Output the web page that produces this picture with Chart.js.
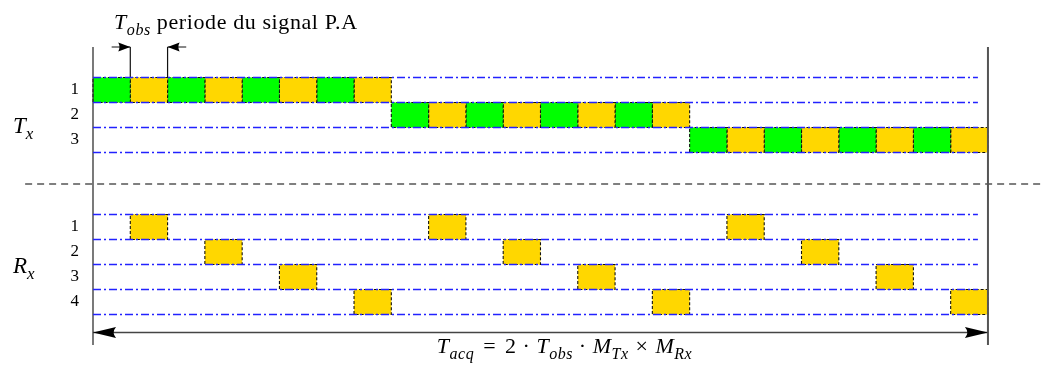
<!DOCTYPE html>
<html>
<head>
<meta charset="utf-8">
<script src="https://cdn.jsdelivr.net/npm/chart.js@4.4.0/dist/chart.umd.min.js"></script>
<style>
  html, body { margin: 0; padding: 0; background: #fff; }
</style>
</head>
<body>
<canvas id="chronogramme" width="1050" height="365"></canvas>
<script>
// ---- donnees du chronogramme ----
const nbCellules = 24;              // nombre de periodes T_obs sur T_acq
const txLabels = ['1', '2', '3'];
const rxLabels = ['1', '2', '3', '4'];

// cellules occupees par chaque emetteur (index de periode)
const tx1Cells = [0, 1, 2, 3, 4, 5, 6, 7];
const tx2Cells = [8, 9, 10, 11, 12, 13, 14, 15];
const tx3Cells = [16, 17, 18, 19, 20, 21, 22, 23];
// motif des couleurs dans une rafale Tx (V = vert, J = jaune)
const txMotif = ['V', 'J', 'V', 'J', 'V', 'J', 'V', 'J'];

// cellules d'ecoute de chaque recepteur
const rx1Cells = [1, 9, 17];
const rx2Cells = [3, 11, 19];
const rx3Cells = [5, 13, 21];
const rx4Cells = [7, 15, 23];

const tobsCell = 1;   // periode repere pour la cote T_obs

// ---- mise en page ----
const CELL_PX = 37.29, X0_PX = 93;
const ROW_PX = 25, Y0_PX = 77.5;
const RX_TOP = 5.48;        // haut de la voie Rx 1 (en hauteurs de voie)
const SEP_Y = 4.26;         // ligne pointillee Tx / Rx
const ARROW_Y = 10.2;       // fleche T_acq
const TOP_Y = -1.22, BOT_Y = 10.7;
const BLUE_END = 23.73;

const COLORS = { V: '#00ff00', J: '#ffd700' };
const BLUE = '#2222ff';

function laneTop(group, lane) {
  return group === 'tx' ? lane - 1 : RX_TOP + lane - 1;
}

function boxDataset(cell, top, color) {
  return {
    data: [
      { x: cell, y: top }, { x: cell + 1, y: top },
      { x: cell + 1, y: top + 1 }, { x: cell, y: top + 1 },
      { x: cell, y: top }
    ],
    backgroundColor: color,
    borderColor: '#111',
    borderWidth: 1.1,
    borderDash: [3, 2],
    fill: 'shape',
    order: 2
  };
}

function segment(x0, y0, x1, y1, style) {
  return Object.assign({
    data: [{ x: x0, y: y0 }, { x: x1, y: y1 }],
    fill: false,
    order: 1
  }, style);
}

const datasets = [];

// voies Tx
[tx1Cells, tx2Cells, tx3Cells].forEach((cells, i) => {
  cells.forEach((c, k) => datasets.push(boxDataset(c, laneTop('tx', i + 1), COLORS[txMotif[k]])));
});
// voies Rx
[rx1Cells, rx2Cells, rx3Cells, rx4Cells].forEach((cells, i) => {
  cells.forEach(c => datasets.push(boxDataset(c, laneTop('rx', i + 1), COLORS.J)));
});

// lignes bleues (bords des voies)
const blueStyle = { borderColor: BLUE, borderWidth: 1.5, borderDash: [8, 3, 2, 3], order: 0 };
for (let l = 0; l <= txLabels.length; l++) {
  datasets.push(segment(0, l, BLUE_END, l, blueStyle));
}
for (let l = 0; l <= rxLabels.length; l++) {
  datasets.push(segment(0, RX_TOP + l, BLUE_END, RX_TOP + l, blueStyle));
}

// separation Tx / Rx
datasets.push(segment(-1.82, SEP_Y, 25.53, SEP_Y,
  { borderColor: '#555', borderWidth: 1.5, borderDash: [7, 5] }));

// bornes verticales et fleche T_acq
datasets.push(segment(0, TOP_Y, 0, BOT_Y, { borderColor: '#333', borderWidth: 1.3 }));
datasets.push(segment(nbCellules, TOP_Y, nbCellules, BOT_Y, { borderColor: '#555', borderWidth: 2 }));
datasets.push(segment(0, ARROW_Y, nbCellules, ARROW_Y, { borderColor: '#444', borderWidth: 1.5 }));

// cote T_obs
datasets.push(segment(tobsCell, TOP_Y, tobsCell, 0, { borderColor: '#111', borderWidth: 1.2 }));
datasets.push(segment(tobsCell + 1, TOP_Y, tobsCell + 1, 0, { borderColor: '#111', borderWidth: 1.2 }));
datasets.push(segment(tobsCell - 0.5, TOP_Y, tobsCell, TOP_Y, { borderColor: '#111', borderWidth: 1 }));
datasets.push(segment(tobsCell + 1, TOP_Y, tobsCell + 1.5, TOP_Y, { borderColor: '#111', borderWidth: 1 }));

// ---- texte math (style LaTeX) ----
const SERIF = '"Liberation Serif", "DejaVu Serif", serif';

function drawMath(ctx, parts, x, baseline, size, align) {
  const fontFor = p => `${p.it ? 'italic ' : ''}${p.sub ? Math.round(size * 0.72) : size}px ${SERIF}`;
  let total = 0;
  parts.forEach(p => { ctx.font = fontFor(p); total += ctx.measureText(p.t).width + (p.gap || 0); });
  let cx = align === 'center' ? x - total / 2 : align === 'right' ? x - total : x;
  ctx.textAlign = 'left';
  ctx.textBaseline = 'alphabetic';
  parts.forEach(p => {
    ctx.font = fontFor(p);
    ctx.fillText(p.t, cx, baseline + (p.sub ? size * 0.28 : 0));
    cx += ctx.measureText(p.t).width + (p.gap || 0);
  });
}

function arrowHead(ctx, tipX, y, dir, len, half) {
  ctx.beginPath();
  ctx.moveTo(tipX, y);
  ctx.lineTo(tipX - dir * len, y - half);
  ctx.quadraticCurveTo(tipX - dir * len * 0.8, y, tipX - dir * len, y + half);
  ctx.closePath();
  ctx.fill();
}

const annotations = {
  id: 'annotations',
  afterDatasetsDraw(chart) {
    const { ctx, scales: { x, y } } = chart;
    ctx.save();
    ctx.fillStyle = '#000';

    // fleches
    const ay = y.getPixelForValue(ARROW_Y);
    arrowHead(ctx, x.getPixelForValue(0), ay, -1, 23, 5.5);
    arrowHead(ctx, x.getPixelForValue(nbCellules), ay, 1, 23, 5.5);
    const ty = y.getPixelForValue(TOP_Y);
    arrowHead(ctx, x.getPixelForValue(tobsCell), ty, 1, 12, 4.5);
    arrowHead(ctx, x.getPixelForValue(tobsCell + 1), ty, -1, 12, 4.5);

    // etiquettes des voies
    ctx.font = `17px ${SERIF}`;
    ctx.textAlign = 'right';
    ctx.textBaseline = 'middle';
    const lx = x.getPixelForValue(0) - 14;
    txLabels.forEach((t, i) => ctx.fillText(t, lx, y.getPixelForValue(laneTop('tx', i + 1) + 0.5)));
    rxLabels.forEach((t, i) => ctx.fillText(t, lx, y.getPixelForValue(laneTop('rx', i + 1) + 0.5)));

    drawMath(ctx, [{ t: 'T', it: true }, { t: 'x', it: true, sub: true }],
      13, y.getPixelForValue(laneTop('tx', 3) + 0.2), 23, 'left');
    drawMath(ctx, [{ t: 'R', it: true }, { t: 'x', it: true, sub: true }],
      13, y.getPixelForValue(laneTop('rx', 3) + 0.34), 23, 'left');

    // titre T_obs
    ctx.letterSpacing = '0.6px';
    drawMath(ctx, [
      { t: 'T', it: true }, { t: 'obs', it: true, sub: true, gap: 6 },
      { t: 'periode du signal P.A' }
    ], 114, 29, 22, 'left');

    // formule T_acq
    ctx.letterSpacing = '0.5px';
    drawMath(ctx, [
      { t: 'T', it: true }, { t: 'acq', it: true, sub: true, gap: 9 },
      { t: '=', gap: 9 }, { t: '2', gap: 6 }, { t: '\u00b7', gap: 6 },
      { t: 'T', it: true }, { t: 'obs', it: true, sub: true, gap: 6 },
      { t: '\u00b7', gap: 6 },
      { t: 'M', it: true }, { t: 'Tx', it: true, sub: true, gap: 7 },
      { t: '\u00d7', gap: 7 },
      { t: 'M', it: true }, { t: 'Rx', it: true, sub: true }
    ], x.getPixelForValue(nbCellules / 2) + 24, 353, 22, 'center');
    ctx.letterSpacing = '0px';

    ctx.restore();
  }
};

new Chart(document.getElementById('chronogramme'), {
  type: 'line',
  data: { datasets },
  options: {
    responsive: false,
    animation: false,
    devicePixelRatio: 1,
    layout: { padding: 0 },
    elements: {
      point: { radius: 0, hoverRadius: 0 },
      line: { tension: 0, borderJoinStyle: 'miter' }
    },
    plugins: { legend: { display: false }, tooltip: { enabled: false } },
    scales: {
      x: { type: 'linear', display: false, min: -X0_PX / CELL_PX, max: (1050 - X0_PX) / CELL_PX },
      y: { type: 'linear', display: false, reverse: true, min: -Y0_PX / ROW_PX, max: (365 - Y0_PX) / ROW_PX }
    }
  },
  plugins: [annotations]
});
</script>
</body>
</html>
